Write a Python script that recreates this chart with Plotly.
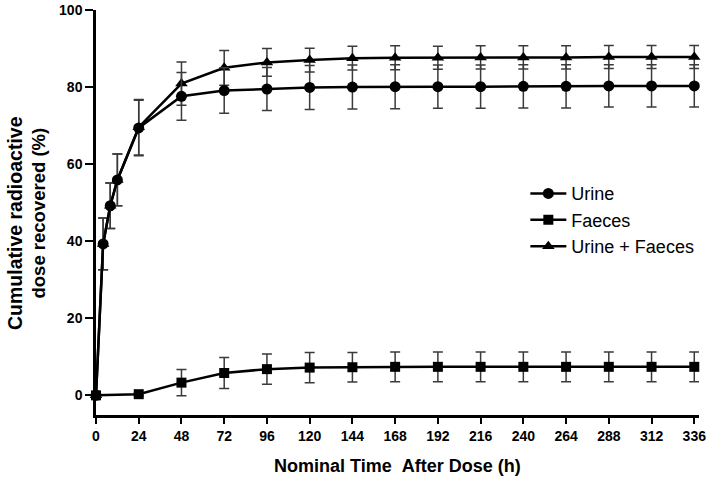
import plotly.graph_objects as go

# ---- data ----
time_all = [0, 4, 8, 12, 24, 48, 72, 96, 120, 144, 168, 192, 216, 240, 264, 288, 312, 336]
urine = [0, 39.3, 49.2, 55.9, 69.4, 77.6, 79.1, 79.5, 79.9, 80.0, 80.1, 80.1, 80.1, 80.2, 80.2, 80.3, 80.3, 80.3]
urine_err = [0, 6.7, 5.9, 6.7, 7.2, 6.2, 5.9, 5.6, 5.7, 5.7, 5.7, 5.6, 5.6, 5.6, 5.6, 5.5, 5.5, 5.5]

time_faeces = [0, 24, 48, 72, 96, 120, 144, 168, 192, 216, 240, 264, 288, 312, 336]
faeces = [0, 0.3, 3.3, 5.8, 6.8, 7.2, 7.3, 7.4, 7.4, 7.4, 7.4, 7.4, 7.4, 7.4, 7.4]
faeces_err = [0, 0.4, 3.4, 4.0, 3.9, 3.95, 3.85, 3.85, 3.85, 3.85, 3.85, 3.85, 3.85, 3.85, 3.85]

total = [0, 39.3, 49.2, 55.9, 69.6, 80.9, 85.0, 86.4, 87.0, 87.5, 87.6, 87.6, 87.7, 87.7, 87.7, 87.8, 87.8, 87.8]
total_err = [0, 6.7, 5.9, 6.7, 7.2, 5.6, 4.5, 3.6, 3.1, 3.1, 3.1, 3.0, 3.0, 3.0, 3.0, 3.0, 3.0, 3.0]

x_ticks = [0, 24, 48, 72, 96, 120, 144, 168, 192, 216, 240, 264, 288, 312, 336]
y_ticks = [0, 20, 40, 60, 80, 100]

FONT = "Liberation Sans, Arial, sans-serif"
ERR_COLOR = "#3a3a3a"


def err(vals):
    return dict(type="data", array=vals, visible=True, color=ERR_COLOR, thickness=1.5, width=5)


fig = go.Figure()
fig.add_trace(go.Scatter(
    x=time_all, y=total, name="Urine + Faeces", legendrank=3,
    mode="lines+markers", line=dict(color="black", width=2.5),
    marker=dict(symbol="triangle-up", size=11, color="black"),
    error_y=err(total_err), cliponaxis=False,
))
fig.add_trace(go.Scatter(
    x=time_all, y=urine, name="Urine", legendrank=1,
    mode="lines+markers", line=dict(color="black", width=2.5),
    marker=dict(symbol="circle", size=11, color="black"),
    error_y=err(urine_err), cliponaxis=False,
))
fig.add_trace(go.Scatter(
    x=time_faeces, y=faeces, name="Faeces", legendrank=2,
    mode="lines+markers", line=dict(color="black", width=2.5),
    marker=dict(symbol="square", size=10, color="black"),
    error_y=err(faeces_err), cliponaxis=False,
))

px_per_h = 1.7806
x_max = (699 - 96) / px_per_h

fig.update_layout(
    width=709, height=478,
    margin=dict(l=96, r=10, t=10, b=63, autoexpand=False),
    paper_bgcolor="white", plot_bgcolor="white",
    font=dict(family=FONT, color="black"),
    showlegend=True,
    legend=dict(
        x=0.712, y=0.592, xanchor="left", yanchor="top",
        font=dict(family=FONT, size=18, color="black"),
        bgcolor="rgba(0,0,0,0)", itemwidth=36, tracegroupgap=0,
    ),
    xaxis=dict(
        range=[0, x_max], tickvals=x_ticks, ticktext=[str(v) for v in x_ticks],
        showgrid=False, zeroline=False, showline=True, linecolor="black", linewidth=2.5,
        ticks="outside", ticklen=6, tickwidth=2, tickcolor="black", automargin=False,
        tickfont=dict(family=FONT, size=14, color="black", weight="bold"),
    ),
    yaxis=dict(
        range=[-5.1, 100], tickvals=y_ticks, ticktext=[str(v) for v in y_ticks],
        showgrid=False, zeroline=False, showline=True, linecolor="black", linewidth=2.5,
        ticks="outside", ticklen=8, tickwidth=2, tickcolor="black", automargin=False,
        tickfont=dict(family=FONT, size=14, color="black", weight="bold"),
    ),
    annotations=[
        dict(text="Nominal Time\u00a0\u00a0After Dose (h)", xref="paper", yref="paper",
             x=0.5, y=-(465.5 - 415) / 405, xanchor="center", yanchor="middle",
             showarrow=False, font=dict(family=FONT, size=18, color="black", weight="bold")),
        dict(text="Cumulative radioactive", xref="paper", yref="paper",
             x=-(96 - 15) / 603, y=(415 - 223) / 405, xanchor="center", yanchor="middle",
             textangle=-90, showarrow=False,
             font=dict(family=FONT, size=19.5, color="black", weight="bold")),
        dict(text="dose recovered (%)", xref="paper", yref="paper",
             x=-(96 - 38) / 603, y=(415 - 212.5) / 405, xanchor="center", yanchor="middle",
             textangle=-90, showarrow=False,
             font=dict(family=FONT, size=18.5, color="black", weight="bold")),
    ],
)

fig.write_html("out.html", config={"displayModeBar": False},
               post_script="document.body.style.margin='0';")
